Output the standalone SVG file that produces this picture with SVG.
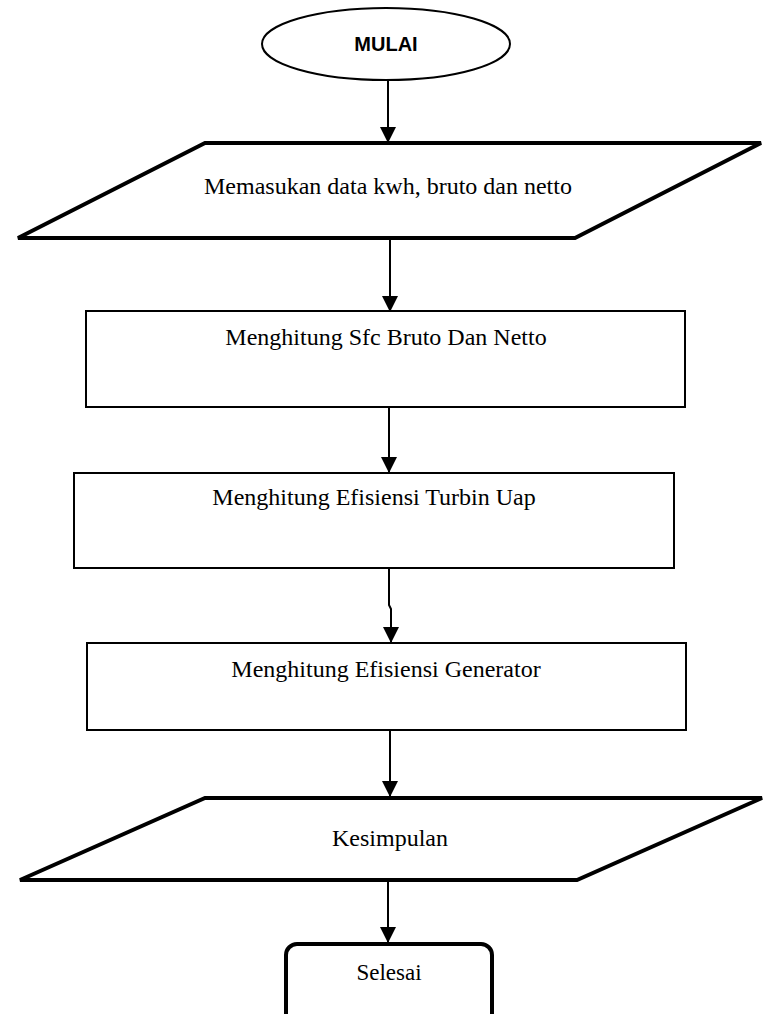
<svg xmlns="http://www.w3.org/2000/svg" width="772" height="1014" viewBox="0 0 772 1014">
<style>
.bg{fill:#ffffff}
.thin{fill:#ffffff;stroke:#000;stroke-width:2}
.thick{fill:#ffffff;stroke:#000;stroke-width:4;stroke-linejoin:miter}
.conn{fill:none;stroke:#000;stroke-width:2}
.t{font-family:"Liberation Serif","Times New Roman",serif;font-size:24px;fill:#000;text-anchor:middle}
.b{font-family:"Liberation Sans",Arial,sans-serif;font-size:20px;font-weight:bold;fill:#000;text-anchor:middle}
</style>
<defs>
<marker id="ah" markerUnits="userSpaceOnUse" markerWidth="16" markerHeight="16" refX="15" refY="8" orient="auto" viewBox="0 0 16 16">
<path d="M0,0 L16,8 L0,16 Z" fill="#000"/>
</marker>
</defs>
<rect class="bg" x="0" y="0" width="772" height="1014"/>
<g id="connectors">
<line class="conn" x1="388" y1="80" x2="388" y2="142" marker-end="url(#ah)"/>
<line class="conn" x1="390" y1="240" x2="390" y2="311" marker-end="url(#ah)"/>
<line class="conn" x1="389" y1="408" x2="389" y2="472" marker-end="url(#ah)"/>
<polyline class="conn" points="389,569 389,605 391,609 391,642" marker-end="url(#ah)"/>
<line class="conn" x1="390" y1="731" x2="390" y2="796" marker-end="url(#ah)"/>
<line class="conn" x1="388" y1="882" x2="388" y2="942" marker-end="url(#ah)"/>
</g>
<g id="mulai">
<ellipse class="thin" cx="386" cy="44" rx="124" ry="36"/>
<text class="b" x="386" y="51">MULAI</text>
</g>
<g id="input">
<polygon class="thick" points="205,143 761,143 575,238 18,238"/>
<text class="t" x="388" y="194">Memasukan data kwh, bruto dan netto</text>
</g>
<g id="sfc">
<rect class="thin" x="86" y="311" width="599" height="96"/>
<text class="t" x="386" y="345">Menghitung Sfc Bruto Dan Netto</text>
</g>
<g id="turbin">
<rect class="thin" x="74" y="473" width="600" height="95"/>
<text class="t" x="374" y="505">Menghitung Efisiensi Turbin Uap</text>
</g>
<g id="generator">
<rect class="thin" x="87" y="643" width="599" height="87"/>
<text class="t" x="386" y="677">Menghitung Efisiensi Generator</text>
</g>
<g id="kesimpulan">
<polygon class="thick" points="205,798 762,798 577,880 20,880"/>
<text class="t" x="390" y="846">Kesimpulan</text>
</g>
<g id="selesai">
<rect class="thick" x="286" y="944" width="206" height="80" rx="11" ry="11"/>
<text class="t" x="389" y="980" style="font-size:23px">Selesai</text>
</g>
</svg>
